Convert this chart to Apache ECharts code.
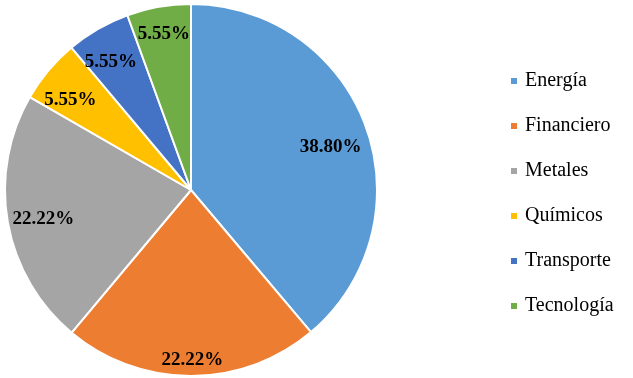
<!DOCTYPE html>
<html>
<head>
<meta charset="utf-8">
<script src="https://cdn.jsdelivr.net/npm/echarts@6/dist/echarts.min.js"></script>
<style>
  html, body { margin: 0; padding: 0; background: #fff; }
  #main { width: 633px; height: 378px; }
</style>
</head>
<body>
<div id="main"></div>
<script>
var sectores = ['Energía', 'Financiero', 'Metales', 'Químicos', 'Transporte', 'Tecnología'];
var porcentajes = [38.80, 22.22, 22.22, 5.55, 5.55, 5.55];
var colores = ['#5B9BD5', '#ED7D31', '#A5A5A5', '#FFC000', '#4472C4', '#70AD47'];

// ajuste fino de donde cae cada etiqueta (tipo "mejor ajuste" de Excel)
var desplazamientos = [[-7, 11], [1, 14], [6, 2], [-1, 10], [-2, 7], [0, -2]];

var datos = [];
var etiquetas = [];
for (var i = 0; i < sectores.length; i++) {
  datos.push({ name: sectores[i], value: porcentajes[i] });
  etiquetas.push({
    name: sectores[i],
    value: porcentajes[i],
    label: { offset: desplazamientos[i] }
  });
}

var myChart = echarts.init(document.getElementById('main'));

var option = {
  color: colores,
  animation: false,
  legend: {
    orient: 'vertical',
    left: 504,
    top: 66,
    icon: 'rect',
    itemWidth: 8,
    itemHeight: 8,
    itemGap: 25,
    data: sectores,
    textStyle: {
      fontFamily: 'Liberation Serif',
      fontSize: 20,
      lineHeight: 20,
      color: '#000',
      padding: [0, 0, 0, 2]
    }
  },
  series: [
    {
      // las rebanadas
      type: 'pie',
      center: [191, 190],
      radius: [0, 186],
      startAngle: 90,
      clockwise: true,
      label: { show: false },
      labelLine: { show: false },
      itemStyle: { borderColor: '#fff', borderWidth: 2 },
      data: datos
    },
    {
      // capa transparente solo para colocar las etiquetas cerca del borde
      type: 'pie',
      center: [191, 190],
      radius: [120, 186],
      startAngle: 90,
      clockwise: true,
      silent: true,
      legendHoverLink: false,
      itemStyle: { color: 'rgba(0,0,0,0)', borderWidth: 0 },
      emphasis: { disabled: true },
      label: {
        show: true,
        position: 'inside',
        formatter: function (p) { return p.value.toFixed(2) + '%'; },
        fontFamily: 'Liberation Serif',
        fontWeight: 'bold',
        fontSize: 19,
        color: '#000'
      },
      labelLine: { show: false },
      data: etiquetas
    }
  ]
};

myChart.setOption(option);
window.addEventListener('resize', function () {
  myChart.resize();
});
</script>
</body>
</html>
